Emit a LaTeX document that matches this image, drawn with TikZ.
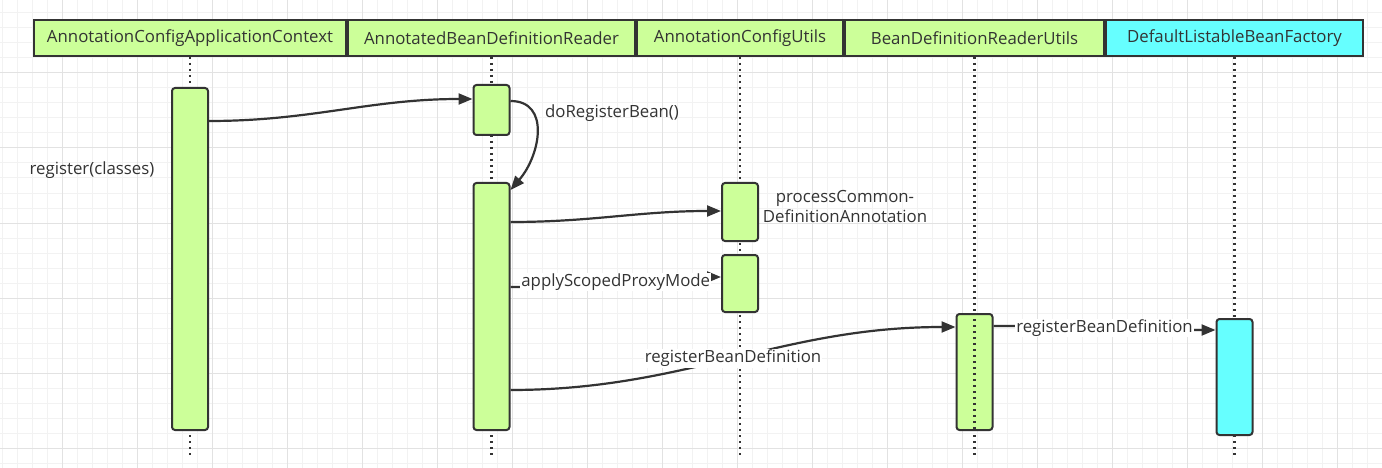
\documentclass[tikz,border=0pt]{standalone}
\usepackage{fontspec}
\setmainfont{Open Sans}
\usepackage{tikz}
\usetikzlibrary{arrows.meta,calc}
\definecolor{barGreen}{HTML}{CCFF99}
\definecolor{barCyan}{HTML}{66FFFF}
\definecolor{inkGray}{HTML}{333333}
\definecolor{gridMinor}{HTML}{F2F2F2}
\definecolor{gridMajor}{HTML}{E2E2E2}
\tikzset{
  headbox/.style={draw=inkGray, line width=2pt, minimum height=36pt, inner sep=0pt,
    text=inkGray, font=\fontsize{16.8}{20}\selectfont},
  actbar/.style={draw=inkGray, line width=2pt, rounded corners=3pt, minimum width=36pt, inner sep=0pt},
  lifeline/.style={inkGray, line width=2.2pt, dash pattern=on 2.2pt off 3.8pt},
  callarrow/.style={inkGray, line width=2.2pt, -{Triangle[length=14pt,width=11pt]}},
  calllabel/.style={text=inkGray, inner sep=1pt, font=\fontsize{16.8}{20}\selectfont}
}
\newcommand{\drawhead}[5]{
  \node[headbox, fill=#4, minimum width={(#3-#2-2)*1pt}] (#1) at ({(#2+#3)/2}, 38) {#5};
}
\newcommand{\drawbar}[5]{
  \node[actbar, fill=#5, minimum height={(#4-#3-2)*1pt}] (#1) at (#2, {(#3+#4)/2}) {};
}

\begin{document}
\begin{tikzpicture}[x=1pt, y=-1pt]
  \fill[white] (0,0) rectangle (1382,468);
  \useasboundingbox (0,0) rectangle (1382,468);
  \foreach \x in {2,17,...,1382}{
    \draw[gridMinor, line width=1pt] (\x,0) -- (\x,468);
  }
  \foreach \y in {13,28,...,468}{
    \draw[gridMinor, line width=1pt] (0,\y) -- (1382,\y);
  }
  \foreach \x in {62,137,...,1382}{
    \draw[gridMajor, line width=1pt] (\x,0) -- (\x,468);
  }
  \foreach \y in {73,148,...,468}{
    \draw[gridMajor, line width=1pt] (0,\y) -- (1382,\y);
  }

  \drawhead{ctxhead}{33}{347}{barGreen}{AnnotationConfigApplicationContext}
  \drawhead{readhead}{347}{636}{barGreen}{AnnotatedBeanDefinitionReader}
  \drawhead{utilhead}{636}{844}{barGreen}{AnnotationConfigUtils}
  \drawhead{rduhead}{844}{1105}{barGreen}{BeanDefinitionReaderUtils}
  \drawhead{facthead}{1105}{1364}{barCyan}{DefaultListableBeanFactory}

  \foreach \h in {ctxhead,readhead,utilhead,rduhead,facthead}{
    \draw[lifeline] (\h.south) -- (\h.south |- 0,455);
  }

  \drawbar{ctxbar}{190}{87}{431}{barGreen}
  \drawbar{readbar}{491.5}{84}{136}{barGreen}
  \drawbar{scanbar}{491.5}{182}{431}{barGreen}
  \drawbar{procbar}{740}{182}{242}{barGreen}
  \drawbar{proxybar}{740}{254}{313}{barGreen}
  \drawbar{rdubar}{974.5}{313}{431}{barGreen}
  \drawbar{factbar}{1234.5}{318}{436}{barCyan}
  \draw[lifeline] (rdubar.north) -- (rdubar.south);

  \node[calllabel] (regclasses) at (92,170) {register(classes)};
  \node[calllabel] (doreg) at (612,113) {doRegisterBean()};
  \node[calllabel, align=center] (proccommon) at (845,206) {processCommon-\\DefinitionAnnotation};

  \draw[callarrow] ($(ctxbar.north east)+(0,34)$) to[out=0,in=180] ($(readbar.north west)+(0,15)$);
  \draw[callarrow] ($(readbar.north east)+(0,17)$) .. controls +(40,0) and +(30,-35) .. ($(scanbar.north east)+(0,8)$);
  \draw[callarrow] ($(scanbar.north east)+(0,40)$) to[out=0,in=180] ($(procbar.north west)+(0,29)$);
  \draw[callarrow] ($(scanbar.north east)+(0,105)$) to[out=0,in=180]
    node[calllabel, fill=white] (proxymode) {applyScopedProxyMode} ($(proxybar.north west)+(0,23)$);
  \draw[callarrow] ($(scanbar.north east)+(0,208)$) to[out=0,in=180]
    node[calllabel, fill=white] (regdef) {registerBeanDefinition} ($(rdubar.north west)+(0,14)$);
  \draw[callarrow] ($(rdubar.north east)+(0,13)$) to[out=0,in=180]
    node[calllabel, fill=white] (regdeftwo) {registerBeanDefinition} ($(factbar.north west)+(0,12)$);
\end{tikzpicture}
\end{document}
